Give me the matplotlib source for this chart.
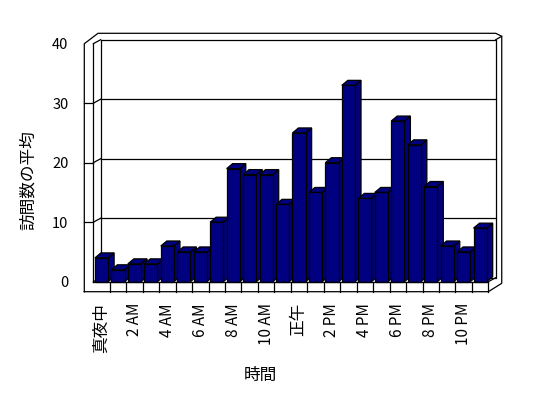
import matplotlib
matplotlib.use('Agg')
import matplotlib.pyplot as plt
import numpy as np
from matplotlib.patches import Polygon

plt.rcParams['font.family'] = ['Noto Sans CJK JP', 'DejaVu Sans']

# data: average visits per hour of the day
hours = np.arange(24)
visits = [4, 2, 3, 3, 6, 5, 5, 10, 19, 18, 18, 13, 25, 15, 20, 33, 14, 15, 27, 23, 16, 6, 5, 9]
tick_hours = [0, 2, 4, 6, 8, 10, 12, 14, 16, 18, 20, 22]
tick_labels = ['真夜中', '2 AM', '4 AM', '6 AM', '8 AM', '10 AM', '正午',
               '2 PM', '4 PM', '6 PM', '8 PM', '10 PM']
y_ticks = [0, 10, 20, 30, 40]
x_title = '時間'
y_title = '訪問数の平均'

NAVY = '#000080'
W, H = 548, 398
N = len(visits)
YMAX = 40

# pixel scale of the front plane
X0_PX, Y0_PX = 93.3, 281.7
SX, SY = 16.46, 5.95


def px(dx, dy):
    """pixel offset (right, up) -> data offset"""
    return dx / SX, dy / SY


WX, WY = px(7.4, 4)      # depth of the box (floor/back wall)
BX, BY = px(6, 5)        # depth of a bar
TL, _ = px(9, 0)         # left wall thickness
_, TF = px(0, 10)        # floor thickness
_, TT = px(0, 6.4)       # top wall thickness
TR, _ = px(6, 0)         # right wall thickness

fig = plt.figure(figsize=(W / 100, H / 100), dpi=100)
left_px, top_px, right_px, bottom_px = 80, 30, 505, 295
ax = fig.add_axes([left_px / W, 1 - bottom_px / H,
                   (right_px - left_px) / W, (bottom_px - top_px) / H])
ax.set_xlim((left_px - X0_PX) / SX, (right_px - X0_PX) / SX)
ax.set_ylim((Y0_PX - bottom_px) / SY, (Y0_PX - top_px) / SY)
for s in ax.spines.values():
    s.set_visible(False)

lw = 0.9
kw = dict(color='black', lw=lw, solid_capstyle='projecting', clip_on=False)

# back wall and gridlines
ax.plot([WX, N + WX, N + WX, WX, WX], [WY, WY, YMAX + WY, YMAX + WY, WY], zorder=1, **kw)
for v in y_ticks[1:-1]:
    ax.plot([WX, N + WX], [v + WY, v + WY], zorder=1, **kw)
for v in y_ticks:
    ax.plot([0, WX], [v, v + WY], zorder=1, **kw)
    if 0 < v < YMAX:
        ax.plot([-TL, 0], [v, v], zorder=1, **kw)

# left wall inner edge, floor front face and dividers
ax.plot([0, 0], [0, YMAX], zorder=1, **kw)
ax.plot([0, N], [0, 0], zorder=4, **kw)
for k in range(1, N + 1):
    ax.plot([k, k], [0, -TF], zorder=4, **kw)
ax.plot([N, N + WX], [0, WY], zorder=1, **kw)

# outer frame
top_outer = YMAX + WY + TT
ox = N + WX + TR
frame_x = [-TL, N, ox, ox, N + WX, -TL + 13.7 / SX, -TL, -TL]
frame_y = [-TF, -TF, -TF + 8.4 / SY, top_outer - 3 / SY, top_outer, top_outer, YMAX, -TF]
ax.plot(frame_x, frame_y, zorder=4, **kw)
ax.plot([N + WX, ox], [YMAX + WY, top_outer - 3 / SY], zorder=1, **kw)

# bars: front faces through ax.bar, top and side faces as polygons
x_left = hours + 0.1
bw = 0.8
ax.bar(x_left, visits, width=bw, align='edge', color=NAVY,
       edgecolor='black', linewidth=lw, zorder=3)
for i, (x0, v) in enumerate(zip(x_left, visits)):
    x1 = x0 + bw
    top = Polygon([(x0, v), (x1, v), (x1 + BX, v + BY), (x0 + BX, v + BY)],
                  closed=True, facecolor=NAVY, edgecolor='black', lw=lw,
                  zorder=2 + i * 0.01)
    side = Polygon([(x1, 0), (x1 + BX, BY), (x1 + BX, v + BY), (x1, v)],
                   closed=True, facecolor=NAVY, edgecolor='black', lw=lw,
                   zorder=2 + i * 0.01)
    ax.add_patch(side)
    ax.add_patch(top)

# ticks and labels
ax.set_yticks(y_ticks)
ax.set_yticklabels([str(v) for v in y_ticks], fontsize=10.5)
ax.set_xticks([h + 0.5 for h in tick_hours])
ax.set_xticklabels(tick_labels, rotation=90, fontsize=11)
for t in ax.get_xticklabels():
    if not t.get_text()[0].isdigit():
        t.set_fontsize(12)
ax.tick_params(axis='y', length=0, pad=8.3)
ax.tick_params(axis='x', length=0, pad=5.8)

ax.set_xlabel(x_title, fontsize=12)
ax.set_ylabel(y_title, fontsize=12)
ax.xaxis.label.set_va('center')
ax.yaxis.label.set_va('center')
ax.xaxis.set_label_coords((260 - left_px) / (right_px - left_px),
                          (bottom_px - 375.5) / (bottom_px - top_px))
ax.yaxis.set_label_coords((28.5 - left_px) / (right_px - left_px),
                          (bottom_px - 180) / (bottom_px - top_px))

fig.savefig('out.png', dpi=100)
